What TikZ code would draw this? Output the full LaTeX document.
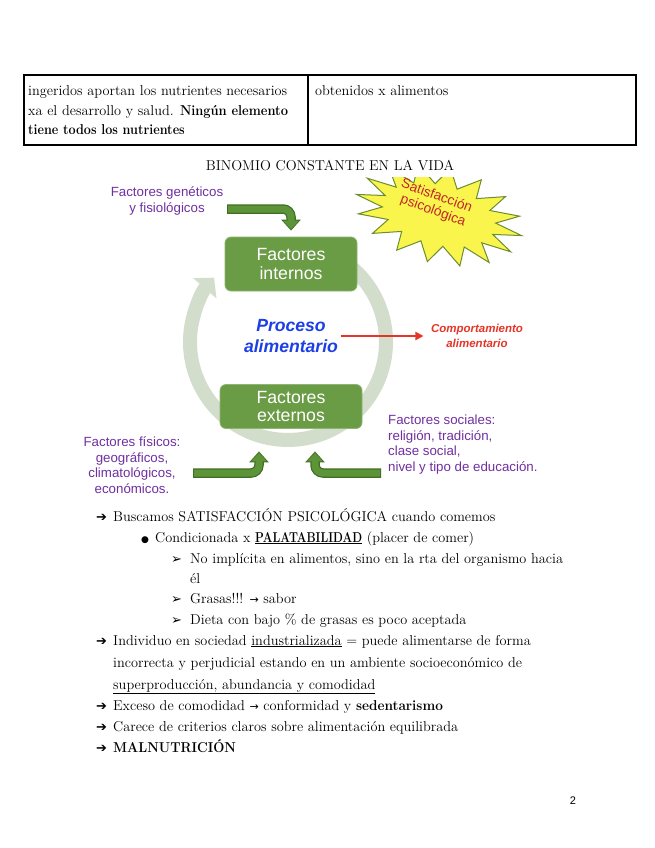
\documentclass[tikz,border=0pt]{standalone}
\usepackage{fontspec}
\usetikzlibrary{arrows.meta}
\newfontfamily\arial{Liberation Sans}
\newfontfamily\dejavu{DejaVu Sans}
\definecolor{ringc}{HTML}{D3DDCB}
\definecolor{boxg}{HTML}{6A9B45}
\definecolor{arrg}{HTML}{5E9438}
\definecolor{arrgd}{HTML}{3F6E24}
\definecolor{purp}{HTML}{7030A0}
\definecolor{procb}{HTML}{1C3FE6}
\definecolor{redc}{HTML}{E53526}
\definecolor{stary}{HTML}{FAF54C}
\definecolor{stargd}{HTML}{6B8E2E}
\definecolor{starr}{HTML}{C2272D}
\newcommand\nbf[2][0.9]{\scalebox{#1}[1]{\textbf{#2}}}
\tikzset{
  body/.style={anchor=base west, inner sep=0pt, font=\fontsize{14.3}{17}\selectfont},
  sym/.style={anchor=base west, inner sep=0pt, font=\dejavu\fontsize{13}{15}\selectfont},
  gbox/.style={fill=boxg, draw=boxg!75!white, line width=0.8pt, rounded corners=6pt, text=white,
    font=\arial\fontsize{17.7}{18.5}\selectfont, align=center, inner sep=0pt},
  plabel/.style={text=purp, font=\arial\fontsize{13.3}{15.6}\selectfont, inner sep=0pt},
  startext/.style={rotate=-20, text=starr, font=\arial\fontsize{13.8}{15}\selectfont, inner sep=0pt},
  garrowout/.style={draw=arrgd, line width=9.5pt, rounded corners=8pt, -{Triangle[width=19pt,length=11pt]}},
  garrowin/.style={draw=arrg, line width=7pt, rounded corners=8pt, -{Triangle[width=15.5pt,length=8.5pt]}},
}
\begin{document}
\begin{tikzpicture}[x=1pt,y=1pt]
\useasboundingbox (0,0) rectangle (655,-848);
\fill[white] (0,0) rectangle (655,-848);

% table
\draw[line width=1.1pt] (24,-75) rectangle (636,-145);
\draw[line width=1.1pt] (308,-75) -- (308,-145);
\node[body] (tl1) at (28,-96) {ingeridos aportan los nutrientes necesarios};
\node[body] (tl2) at (28,-116) {xa el desarrollo y salud. \nbf{Ningún elemento}};
\node[body] (tl3) at (28,-135) {\nbf[0.88]{tiene todos los nutrientes}};
\node[body] (tr1) at (315,-96) {obtenidos x alimentos};

% title
\node[body, anchor=base] (title) at (330,-170) {BINOMIO CONSTANTE EN LA VIDA};

% star
\begin{scope}
\clip (330,-177.5) rectangle (545,-280);
\filldraw[fill=stary, draw=stargd, line width=1pt, shift={(439,-215)}, rotate=-14]
  plot[samples at={0,...,31}] ({(mod(\x,2)==0?85:58)*cos(\x*11.25)}, {(mod(\x,2)==0?48:30)*sin(\x*11.25)}) -- cycle;
\end{scope}
\node[startext] (sat1) at (437,-195) {Satisfacción};
\node[startext] (sat2) at (433,-211) {psicológica};

% ring
\draw[ringc, line width=14pt, -{Triangle[width=30pt,length=14pt]}] (351,-266.9) arc[start angle=50, end angle=-221, radius=98];

% boxes
\node[gbox, minimum width=132pt, minimum height=54pt] (int) at (291,-264) {Factores\\internos};
\node[gbox, minimum width=142pt, minimum height=44pt] (ext) at (291,-406.5) {Factores\\externos};

% center text
\node[font=\arial\bfseries\itshape\fontsize{17.6}{21}\selectfont, text=procb, align=center] (pro) at (291,-336) {Proceso\\alimentario};
\node[font=\arial\bfseries\itshape\fontsize{11.5}{14.5}\selectfont, text=redc, align=center] (comp) at (477,-336) {Comportamiento\\alimentario};
\draw[redc, line width=2pt, -{Triangle[width=8pt,length=8pt]}, shorten >=4pt] (pro.east) -- (comp.west);

% purple labels
\node[plabel, align=center] (gen) at (167,-201) {Factores genéticos\\y fisiológicos};
\node[plabel, align=center] (fis) at (132,-465) {Factores físicos:\\geográficos,\\climatológicos,\\económicos.};
\node[plabel, align=left, anchor=west] (soc) at (388,-444.5) {Factores sociales:\\religión, tradición,\\clase social,\\nivel y tipo de educación.};

% green bent arrows
\coordinate (gs) at (227,-209);
\coordinate (fs) at (193,-473);
\coordinate (ss) at (381,-473);
\draw[garrowout, shorten >=6pt] (gs) -| (int.north);
\draw[garrowin, shorten >=7.5pt, shorten <=1pt] (gs) -| (int.north);
\draw[garrowout, shorten >=22.5pt] (fs) -| ([xshift=-32pt]ext.south);
\draw[garrowin, shorten >=24pt, shorten <=1pt] (fs) -| ([xshift=-32pt]ext.south);
\draw[garrowout, shorten >=22.5pt] (ss) -| ([xshift=24pt]ext.south);
\draw[garrowin, shorten >=24pt, shorten <=1pt] (ss) -| ([xshift=24pt]ext.south);

% list
\node[sym] (a1) at (96,-521) {➔};
\node[body] (l1) at (113,-521) {Buscamos SATISFACCIÓN PSICOLÓGICA cuando comemos};
\node[sym, font=\dejavu\fontsize{9}{12}\selectfont] (b2) at (141,-542) {●};
\node[body] (l2) at (155,-542) {Condicionada x \underline{\nbf[0.8]{PALATABILIDAD}} (placer de comer)};
\node[sym] (a3) at (171,-563) {➢};
\node[body] (l3) at (190,-563) {No implícita en alimentos, sino en la rta del organismo hacia};
\node[body] (l4) at (190,-583) {él};
\node[sym] (a5) at (171,-603) {➢};
\node[body] (l5) at (190,-603) {Grasas!!! {\dejavu\fontsize{11}{14}\selectfont →} sabor};
\node[sym] (a6) at (171,-624) {➢};
\node[body] (l6) at (190,-624) {Dieta con bajo \% de grasas es poco aceptada};
\node[sym] (a7) at (96,-645) {➔};
\node[body] (l7) at (113,-645) {Individuo en sociedad \underline{industrializada} = puede alimentarse de forma};
\node[body] (l8) at (113,-667) {incorrecta y perjudicial estando en un ambiente socioeconómico de};
\node[body] (l9) at (113,-689) {\underline{superproducción, abundancia y comodidad}};
\node[sym] (a10) at (96,-710) {➔};
\node[body] (l10) at (113,-710) {Exceso de comodidad {\dejavu\fontsize{11}{14}\selectfont →} conformidad y \nbf[0.95]{sedentarismo}};
\node[sym] (a11) at (96,-731) {➔};
\node[body] (l11) at (113,-731) {Carece de criterios claros sobre alimentación equilibrada};
\node[sym] (a12) at (96,-752) {➔};
\node[body] (l12) at (113,-752) {\nbf[0.92]{MALNUTRICIÓN}};

% page number
\node[anchor=base, inner sep=0pt, font=\arial\fontsize{11}{13}\selectfont] (pg) at (573,-804) {2};
\end{tikzpicture}
\end{document}
